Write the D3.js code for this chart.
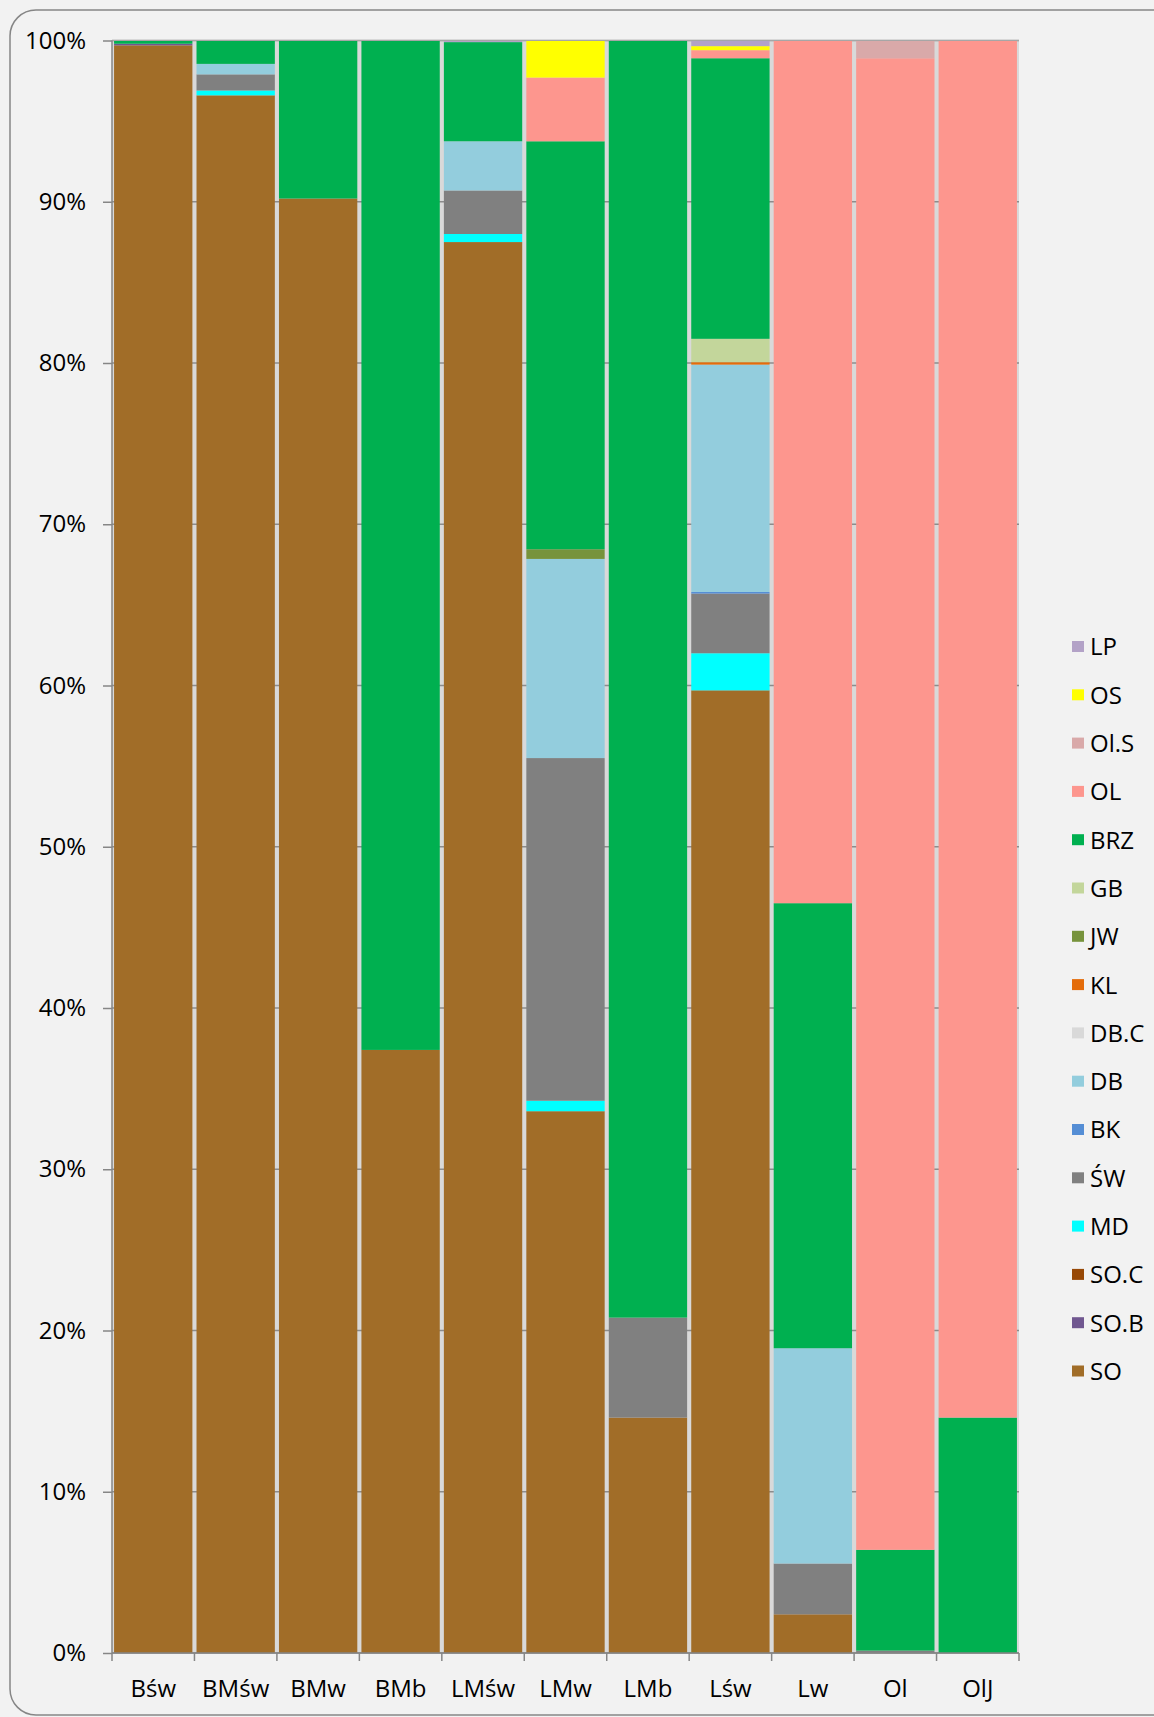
<!DOCTYPE html>
<html lang="pl">
<head>
<meta charset="utf-8">
<style>
  html, body { margin: 0; padding: 0; background: #f2f2f2; }
  svg { display: block; font-family: "Open Sans", sans-serif; }
  .axis path, .axis line { stroke: #868686; stroke-width: 1.5px; }
  .axis text { font-size: 24px; fill: #000; font-family: "Open Sans", sans-serif; }
  .grid line { stroke: #8c8c8c; stroke-width: 1.5px; }
  .legend text { font-size: 24px; fill: #000; }
</style>
<script src="https://cdn.jsdelivr.net/npm/d3@7"></script>
</head>
<body>
<script>
var width = 1154, height = 1717;

// categories along the x axis
var categories = ["Bśw", "BMśw", "BMw", "BMb", "LMśw", "LMw", "LMb", "Lśw", "Lw", "Ol", "OlJ"];

// series, bottom of the stack first
var seriesNames = ["SO", "SO.B", "SO.C", "MD", "ŚW", "BK", "DB", "DB.C", "KL", "JW", "GB", "BRZ", "OL", "Ol.S", "OS", "LP"];
var seriesColors = ["#a16d28", "#705790", "#974806", "#00ffff", "#808080", "#558ed5", "#93cddd", "#d9d9d9",
                    "#e46c0a", "#77933c", "#c3d69b", "#00b050", "#fd968e", "#d9a9a9", "#ffff00", "#b3a2c7"];

// shares in % per category (same order as categories)
var SO   = [99.7, 96.6, 90.2, 37.4, 87.5, 33.6, 14.6, 59.7, 2.4, 0, 0];
var SO_B = [0.1, 0, 0, 0, 0, 0, 0, 0, 0, 0, 0];
var SO_C = [0, 0, 0, 0, 0, 0, 0, 0, 0, 0, 0];
var MD   = [0, 0.3, 0, 0, 0.5, 0.65, 0, 2.3, 0, 0, 0];
var SW   = [0, 1.0, 0, 0, 2.7, 21.25, 6.2, 3.7, 3.15, 0.15, 0];
var BK   = [0, 0, 0, 0, 0, 0, 0, 0.1, 0, 0, 0];
var DB   = [0, 0.65, 0, 0, 3.05, 12.35, 0, 14.1, 13.35, 0, 0];
var DB_C = [0, 0, 0, 0, 0, 0, 0, 0, 0, 0, 0];
var KL   = [0, 0, 0, 0, 0, 0, 0, 0.15, 0, 0, 0];
var JW   = [0, 0, 0, 0, 0, 0.6, 0, 0, 0, 0, 0];
var GB   = [0, 0, 0, 0, 0, 0, 0, 1.45, 0, 0, 0];
var BRZ  = [0.2, 1.45, 9.8, 62.6, 6.15, 25.3, 79.2, 17.4, 27.6, 6.25, 14.6];
var OL   = [0, 0, 0, 0, 0, 3.95, 0, 0.5, 53.5, 92.5, 85.4];
var Ol_S = [0, 0, 0, 0, 0, 0, 0, 0, 0, 1.1, 0];
var OS   = [0, 0, 0, 0, 0, 2.3, 0, 0.25, 0, 0, 0];
var LP   = [0, 0, 0, 0, 0.1, 0, 0, 0.35, 0, 0, 0];

var yTicks = [0, 10, 20, 30, 40, 50, 60, 70, 80, 90, 100];

var seriesValues = [SO, SO_B, SO_C, MD, SW, BK, DB, DB_C, KL, JW, GB, BRZ, OL, Ol_S, OS, LP];

// rows for d3.stack
var table = categories.map(function(c, i) {
  var row = { cat: c };
  seriesNames.forEach(function(s, j) { row[s] = seriesValues[j][i]; });
  return row;
});

var svg = d3.select("body").append("svg")
  .attr("width", width)
  .attr("height", height);

// outer chart frame (right edge runs off the picture)
svg.append("rect")
  .attr("x", 10).attr("y", 10)
  .attr("width", 1200).attr("height", 1705)
  .attr("rx", 26).attr("ry", 26)
  .attr("fill", "#f2f2f2")
  .attr("stroke", "#868686")
  .attr("stroke-width", 1.5);

var plot = { left: 112, right: 1019, top: 40.5, bottom: 1653 };

var x = d3.scaleBand()
  .domain(categories)
  .range([plot.left, plot.right])
  .paddingInner(0.05)
  .paddingOuter(0.025);

var y = d3.scaleLinear()
  .domain([0, 100])
  .range([plot.bottom, plot.top]);

var color = d3.scaleOrdinal().domain(seriesNames).range(seriesColors);

// plot area back (shows in the gaps between bars)
svg.append("rect")
  .attr("x", plot.left).attr("y", plot.top)
  .attr("width", plot.right - plot.left)
  .attr("height", plot.bottom - plot.top)
  .attr("fill", "#d9d9d9");

svg.append("g")
  .attr("class", "grid")
  .selectAll("line")
  .data(yTicks)
  .enter().append("line")
  .attr("x1", plot.left).attr("x2", plot.right)
  .attr("y1", function(d) { return y(d); })
  .attr("y2", function(d) { return y(d); });

var stack = d3.stack().keys(seriesNames);
var layers = stack(table);

svg.append("g").selectAll("g")
  .data(layers)
  .enter().append("g")
  .attr("fill", function(d) { return color(d.key); })
  .selectAll("rect")
  .data(function(d) { return d; })
  .enter().append("rect")
  .attr("x", function(d) { return x(d.data.cat); })
  .attr("width", x.bandwidth())
  .attr("y", function(d) { return y(d[1]); })
  .attr("height", function(d) { return y(d[0]) - y(d[1]); });

// top line at 100%
svg.append("line")
  .attr("x1", plot.left).attr("x2", plot.right)
  .attr("y1", y(100)).attr("y2", y(100))
  .attr("stroke", "#a6a6a6").attr("stroke-width", 1);

// y axis
var yAxis = svg.append("g")
  .attr("class", "axis")
  .attr("transform", "translate(" + plot.left + ",0)")
  .call(d3.axisLeft(y).tickValues(yTicks).tickSize(9).tickPadding(17)
    .tickFormat(function(d) { return d + "%"; }));
yAxis.select(".domain").attr("d", "M0," + y(0) + "V" + y(100));

// x axis: ticks at band boundaries
var xAxis = svg.append("g")
  .attr("class", "axis")
  .attr("transform", "translate(0," + plot.bottom + ")");
xAxis.append("line")
  .attr("x1", plot.left).attr("x2", plot.right)
  .attr("stroke", "#868686").attr("stroke-width", 1.5);
var step = x.step();
var bounds = d3.range(categories.length + 1).map(function(i) { return plot.left + i * step; });
xAxis.selectAll(".tk")
  .data(bounds)
  .enter().append("line")
  .attr("class", "tk")
  .attr("x1", function(d) { return d; }).attr("x2", function(d) { return d; })
  .attr("y1", 0).attr("y2", 8);
xAxis.selectAll(".lbl")
  .data(categories)
  .enter().append("text")
  .attr("class", "lbl")
  .attr("x", function(d) { return x(d) + x.bandwidth() / 2; })
  .attr("y", 44)
  .attr("text-anchor", "middle")
  .text(function(d) { return d; });

// legend, top of stack first
var legendItems = seriesNames.slice().reverse();
var legend = svg.append("g")
  .attr("class", "legend")
  .attr("transform", "translate(1072,647)");
var item = legend.selectAll("g")
  .data(legendItems)
  .enter().append("g")
  .attr("transform", function(d, i) { return "translate(0," + (i * 48.3) + ")"; });
item.append("rect")
  .attr("x", 0).attr("y", -6)
  .attr("width", 12).attr("height", 11)
  .attr("fill", function(d) { return color(d); });
item.append("text")
  .attr("x", 18).attr("y", 0)
  .attr("dy", "0.35em")
  .text(function(d) { return d; });
</script>
</body>
</html>
